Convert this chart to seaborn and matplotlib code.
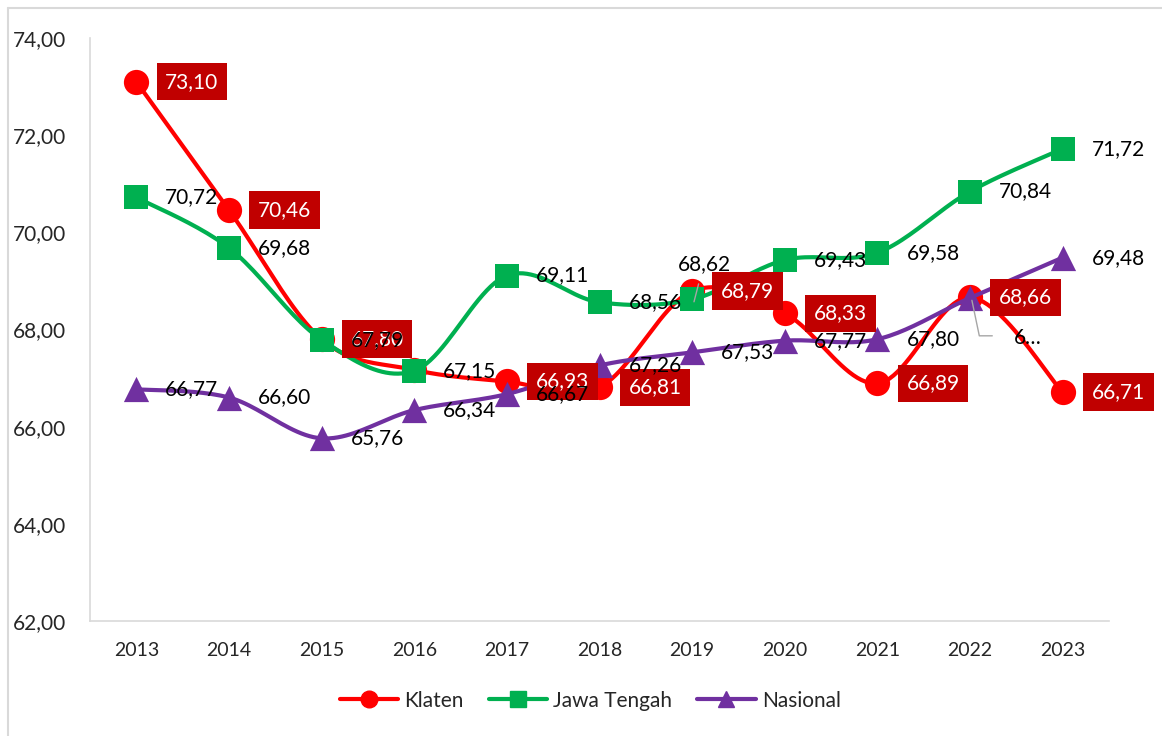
import numpy as np
import pandas as pd
import matplotlib
matplotlib.use("Agg")
import matplotlib.pyplot as plt
from matplotlib.lines import Line2D
import seaborn as sns

years= ["2013", "2014", "2015", "2016", "2017", "2018", "2019", "2020", "2021", "2022", "2023"]
klaten= [73.10, 70.46, 67.80, 67.17, 66.93, 66.81, 68.79, 68.33, 66.89, 68.66, 66.71]
jateng= [70.72, 69.68, 67.79, 67.15, 69.11, 68.56, 68.62, 69.43, 69.58, 70.84, 71.72]
nasional= [66.77, 66.60, 65.76, 66.34, 66.67, 67.26, 67.53, 67.77, 67.80, 68.65, 69.48]
series_names= ["Klaten", "Jawa Tengah", "Nasional"]

sns.set_theme(style="white")
plt.rcParams["font.family"]= ["Lato", "DejaVu Sans"]

colors= {"Klaten": "#FF0000", "Jawa Tengah": "#00B050", "Nasional": "#7030A0"}
markers= {"Klaten": "o", "Jawa Tengah": "s", "Nasional": "^"}
msize= {"Klaten": 330, "Jawa Tengah": 300, "Nasional": 330}

df= pd.DataFrame({"Tahun": years, "Klaten": klaten, "Jawa Tengah": jateng, "Nasional": nasional})
df["idx"]= np.arange(len(df))
long_df= df.melt(id_vars=["Tahun", "idx"], value_vars=series_names, var_name="Wilayah", value_name="Nilai")


def smooth(xs, ys, n=24):
    # catmull-rom curve through the points, like Excel's smoothed line
    xs= np.asarray(xs, float)
    ys= np.asarray(ys, float)
    out_x, out_y= [], []
    m= len(xs)
    for i in range(m - 1):
        i0= max(i - 1, 0)
        i3= min(i + 2, m - 1)
        t= np.linspace(0, 1, n)
        for arr, out in ((xs, out_x), (ys, out_y)):
            p0, p1, p2, p3= arr[i0], arr[i], arr[i + 1], arr[i3]
            c= 0.5 * ((2 * p1) + (-p0 + p2) * t + (2 * p0 - 5 * p1 + 4 * p2 - p3) * t ** 2
                      + (-p0 + 3 * p1 - 3 * p2 + p3) * t ** 3)
            out.extend(c)
    return np.array(out_x), np.array(out_y)


fig= plt.figure(figsize=(11.62, 7.36), dpi=100)
ax= fig.add_axes([90 / 1162, 1 - 621 / 736, (1109 - 90) / 1162, (621 - 38) / 736])

for k, name in enumerate(series_names):
    sub= long_df[long_df["Wilayah"] == name]
    sx, sy= smooth(sub["idx"], sub["Nilai"])
    ax.plot(sx, sy, color=colors[name], lw=3, zorder=2 + 2 * k, solid_capstyle="round")
    sns.scatterplot(data=sub, x="idx", y="Nilai", color=colors[name], marker=markers[name],
                    s=msize[name], edgecolor=colors[name], linewidth=0, ax=ax, zorder=3 + 2 * k,
                    legend=False)

fmt= lambda v: f"{v:.2f}".replace(".", ",")
fs= 15

# data labels, placed to the right of each point
dx= 0.6
for i, v in enumerate(klaten):
    if i == 3:
        continue
    ax.text(i + dx, v, fmt(v), color="white", fontsize=fs, ha="center", va="center", zorder=20,
            bbox=dict(boxstyle="square,pad=0.42", fc="#C00000", ec="none"))

for i, v in enumerate(jateng):
    if i == 6:
        ax.text(i + 0.13, v + 0.72, fmt(v), color="black", fontsize=fs, ha="center", va="center", zorder=21)
        ax.plot([i + 0.02, i + 0.07], [v - 0.05, v + 0.32], color="#A6A6A6", lw=1, zorder=21)
        continue
    ax.text(i + dx, v, fmt(v), color="black", fontsize=fs, ha="center", va="center", zorder=21)

for i, v in enumerate(nasional):
    if i == 9:
        ax.text(i + 0.62, v - 0.82, "6…", color="black", fontsize=fs, ha="center", va="center", zorder=22)
        ax.plot([i + 0.02, i + 0.1, i + 0.24], [v - 0.05, v - 0.78, v - 0.78], color="#A6A6A6", lw=1, zorder=22)
        continue
    ax.text(i + dx, v, fmt(v), color="black", fontsize=fs, ha="center", va="center", zorder=22)

ax.set_xlim(-0.5, len(years) - 0.5)
ax.set_ylim(62, 74)
ax.set_yticks(np.arange(62, 74.1, 2))
ax.set_yticklabels([fmt(v) for v in np.arange(62, 74.1, 2)], fontsize=fs)
ax.set_xticks(np.arange(len(years)))
ax.set_xticklabels(years, fontsize=14)
ax.tick_params(axis="y", pad=17, length=0)
ax.tick_params(axis="x", pad=15, length=0)
ax.set_xlabel("")
ax.set_ylabel("")
ax.grid(False)
sns.despine(ax=ax, top=True, right=True)
for s in ["left", "bottom"]:
    ax.spines[s].set_color("#D9D9D9")
    ax.spines[s].set_linewidth(1.2)

handles= [Line2D([0], [0], color=colors[n], lw=3, marker=markers[n], markersize=12,
                 markeredgecolor=colors[n]) for n in series_names]
fig.legend(handles, series_names, loc="center", bbox_to_anchor=(0.508, 0.048), ncol=3,
           frameon=False, fontsize=fs, handlelength=2.8, columnspacing=1.2, handletextpad=0.3)

# outer chart frame (top and left edges visible)
fig.add_artist(Line2D([8 / 1162, 1], [1 - 8 / 736, 1 - 8 / 736], color="#D9D9D9", lw=1.5))
fig.add_artist(Line2D([8 / 1162, 8 / 1162], [0, 1 - 8 / 736], color="#D9D9D9", lw=1.5))

fig.savefig("out.png", dpi=100)
